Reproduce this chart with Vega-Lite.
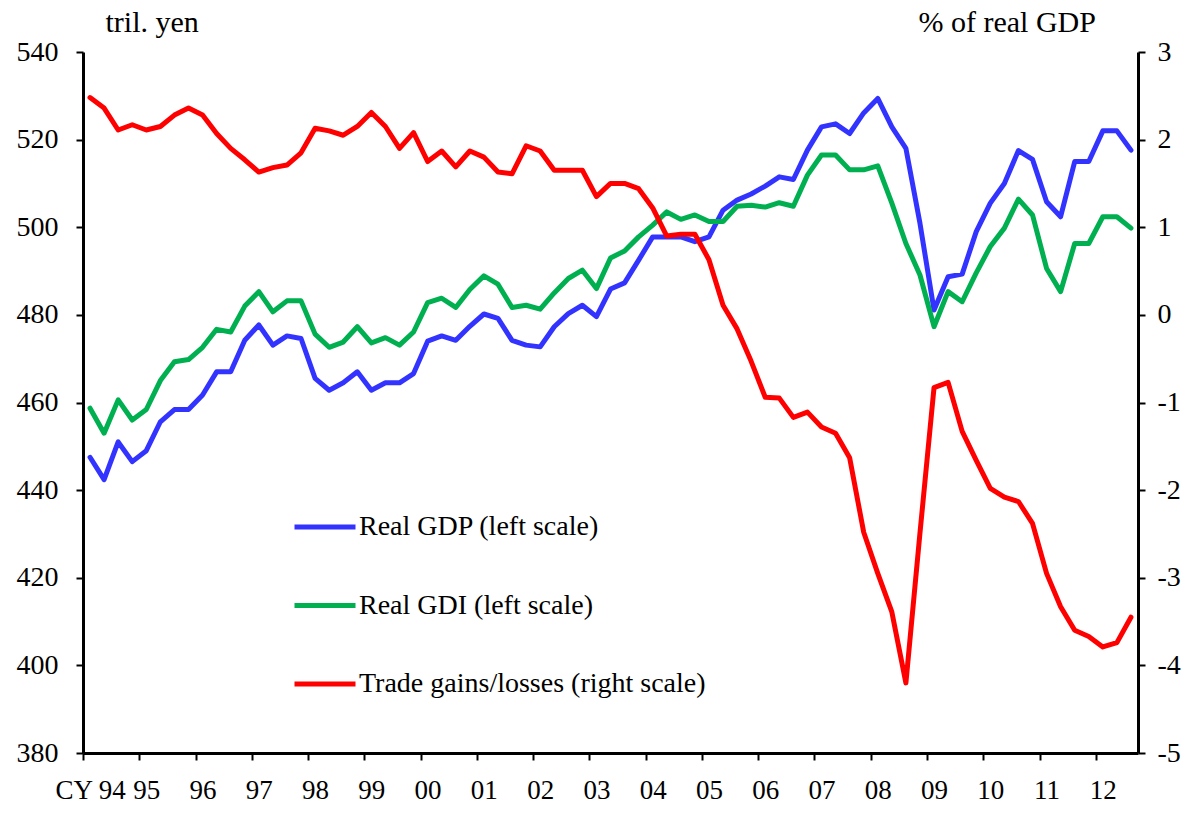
{
  "$schema": "https://vega.github.io/schema/vega-lite/v6.json",
  "width": 1055,
  "height": 701,
  "autosize": {"type": "none"},
  "padding": {"left": 83, "top": 52, "right": 61, "bottom": 61},
  "background": "white",
  "config": {"view": {"stroke": null}, "font": "Liberation Serif"},
  "data": {"values": [
    {"q":0,"gdp":447.5,"gdi":458.7,"tg":2.48},
    {"q":1,"gdp":442.4,"gdi":453.0,"tg":2.36},
    {"q":2,"gdp":451.0,"gdi":460.6,"tg":2.11},
    {"q":3,"gdp":446.5,"gdi":456.0,"tg":2.17},
    {"q":4,"gdp":449.0,"gdi":458.4,"tg":2.11},
    {"q":5,"gdp":455.6,"gdi":465.0,"tg":2.15},
    {"q":6,"gdp":458.4,"gdi":469.3,"tg":2.28},
    {"q":7,"gdp":458.4,"gdi":469.8,"tg":2.36},
    {"q":8,"gdp":461.7,"gdi":472.6,"tg":2.28},
    {"q":9,"gdp":467.0,"gdi":476.7,"tg":2.07},
    {"q":10,"gdp":467.0,"gdi":476.1,"tg":1.90},
    {"q":11,"gdp":474.2,"gdi":482.0,"tg":1.77},
    {"q":12,"gdp":477.7,"gdi":485.3,"tg":1.63},
    {"q":13,"gdp":473.1,"gdi":480.7,"tg":1.68},
    {"q":14,"gdp":475.2,"gdi":483.2,"tg":1.71},
    {"q":15,"gdp":474.6,"gdi":483.2,"tg":1.85},
    {"q":16,"gdp":465.5,"gdi":475.6,"tg":2.13},
    {"q":17,"gdp":462.8,"gdi":472.6,"tg":2.10},
    {"q":18,"gdp":464.5,"gdi":473.8,"tg":2.05},
    {"q":19,"gdp":467.0,"gdi":477.3,"tg":2.15},
    {"q":20,"gdp":462.8,"gdi":473.6,"tg":2.31},
    {"q":21,"gdp":464.5,"gdi":474.8,"tg":2.15},
    {"q":22,"gdp":464.5,"gdi":473.1,"tg":1.90},
    {"q":23,"gdp":466.6,"gdi":476.1,"tg":2.08},
    {"q":24,"gdp":474.0,"gdi":482.8,"tg":1.75},
    {"q":25,"gdp":475.2,"gdi":483.8,"tg":1.87},
    {"q":26,"gdp":474.2,"gdi":481.7,"tg":1.69},
    {"q":27,"gdp":477.4,"gdi":485.8,"tg":1.87},
    {"q":28,"gdp":480.2,"gdi":488.9,"tg":1.80},
    {"q":29,"gdp":479.2,"gdi":487.0,"tg":1.63},
    {"q":30,"gdp":474.2,"gdi":481.7,"tg":1.61},
    {"q":31,"gdp":473.1,"gdi":482.2,"tg":1.93},
    {"q":32,"gdp":472.7,"gdi":481.3,"tg":1.87},
    {"q":33,"gdp":477.3,"gdi":485.0,"tg":1.65},
    {"q":34,"gdp":480.3,"gdi":488.3,"tg":1.65},
    {"q":35,"gdp":482.2,"gdi":490.2,"tg":1.65},
    {"q":36,"gdp":479.6,"gdi":486.0,"tg":1.35},
    {"q":37,"gdp":485.9,"gdi":493.0,"tg":1.50},
    {"q":38,"gdp":487.3,"gdi":494.6,"tg":1.50},
    {"q":39,"gdp":492.5,"gdi":497.8,"tg":1.44},
    {"q":40,"gdp":497.8,"gdi":500.5,"tg":1.22},
    {"q":41,"gdp":497.8,"gdi":503.5,"tg":0.90},
    {"q":42,"gdp":497.8,"gdi":501.8,"tg":0.92},
    {"q":43,"gdp":496.7,"gdi":502.8,"tg":0.92},
    {"q":44,"gdp":497.8,"gdi":501.3,"tg":0.63},
    {"q":45,"gdp":503.9,"gdi":501.3,"tg":0.11},
    {"q":46,"gdp":506.2,"gdi":504.8,"tg":-0.16},
    {"q":47,"gdp":507.6,"gdi":505.0,"tg":-0.53},
    {"q":48,"gdp":509.4,"gdi":504.6,"tg":-0.94},
    {"q":49,"gdp":511.5,"gdi":505.6,"tg":-0.95},
    {"q":50,"gdp":510.9,"gdi":504.8,"tg":-1.17},
    {"q":51,"gdp":517.6,"gdi":511.9,"tg":-1.11},
    {"q":52,"gdp":522.9,"gdi":516.5,"tg":-1.28},
    {"q":53,"gdp":523.6,"gdi":516.5,"tg":-1.35},
    {"q":54,"gdp":521.4,"gdi":513.1,"tg":-1.63},
    {"q":55,"gdp":526.1,"gdi":513.1,"tg":-2.48},
    {"q":56,"gdp":529.4,"gdi":514.0,"tg":-2.95},
    {"q":57,"gdp":522.9,"gdi":505.5,"tg":-3.39},
    {"q":58,"gdp":518.0,"gdi":496.3,"tg":-4.20},
    {"q":59,"gdp":500.9,"gdi":489.1,"tg":-2.49},
    {"q":60,"gdp":481.1,"gdi":477.3,"tg":-0.83},
    {"q":61,"gdp":488.7,"gdi":485.3,"tg":-0.77},
    {"q":62,"gdp":489.3,"gdi":483.0,"tg":-1.33},
    {"q":63,"gdp":499.0,"gdi":489.6,"tg":-1.66},
    {"q":64,"gdp":505.5,"gdi":495.6,"tg":-1.98},
    {"q":65,"gdp":510.0,"gdi":499.8,"tg":-2.08},
    {"q":66,"gdp":517.5,"gdi":506.4,"tg":-2.13},
    {"q":67,"gdp":515.5,"gdi":502.8,"tg":-2.38},
    {"q":68,"gdp":505.8,"gdi":490.6,"tg":-2.95},
    {"q":69,"gdp":502.4,"gdi":485.3,"tg":-3.33},
    {"q":70,"gdp":515.0,"gdi":496.3,"tg":-3.60},
    {"q":71,"gdp":515.0,"gdi":496.3,"tg":-3.67},
    {"q":72,"gdp":522.0,"gdi":502.4,"tg":-3.79},
    {"q":73,"gdp":522.0,"gdi":502.4,"tg":-3.74},
    {"q":74,"gdp":517.6,"gdi":499.8,"tg":-3.45}
  ]},
  "layer": [
    {
      "transform": [{"fold": ["gdp", "gdi"], "as": ["series", "value"]}],
      "mark": {"type": "line", "strokeWidth": 5, "strokeJoin": "round", "strokeCap": "round"},
      "encoding": {
        "x": {
          "field": "q", "type": "quantitative",
          "scale": {"domain": [-0.5, 74.5], "nice": false, "zero": false},
          "axis": {
            "values": [-0.5, 3.5, 7.5, 11.5, 15.5, 19.5, 23.5, 27.5, 31.5, 35.5, 39.5, 43.5, 47.5, 51.5, 55.5, 59.5, 63.5, 67.5, 71.5],
            "labelExpr": "datum.value < 0 ? 'CY 94' : ((94 + (datum.value + 0.5) / 4) % 100 < 10 ? '0' + (94 + (datum.value + 0.5) / 4) % 100 : '' + (94 + (datum.value + 0.5) / 4) % 100)",
            "labelOffset": 7,
            "tickSize": 7, "tickWidth": 2, "tickColor": "black",
            "domainColor": "black", "domainWidth": 3,
            "labelFont": "Liberation Serif", "labelFontSize": 27, "labelColor": "black",
            "labelPadding": 17, "labelFlush": false, "labelOverlap": false, "labelBound": false,
            "grid": false, "title": null
          }
        },
        "y": {
          "field": "value", "type": "quantitative",
          "scale": {"domain": [380, 540], "nice": false, "zero": false},
          "axis": {
            "values": [380, 400, 420, 440, 460, 480, 500, 520, 540],
            "tickSize": 7, "tickWidth": 2, "tickColor": "black",
            "domainColor": "black", "domainWidth": 3,
            "labelFont": "Liberation Serif", "labelFontSize": 28, "labelColor": "black",
            "labelPadding": 18, "labelOverlap": false, "labelBound": false, "labelFlush": false,
            "grid": false,
            "title": "tril. yen", "titleAngle": 0, "titleAlign": "left", "titleBaseline": "alphabetic",
            "titleX": 22, "titleY": -21, "titleFont": "Liberation Serif", "titleFontSize": 30,
            "titleFontWeight": "normal", "titleColor": "black"
          }
        },
        "color": {
          "field": "series", "type": "nominal",
          "scale": {"domain": ["gdp", "gdi", "tg"], "range": ["#3333FF", "#00B050", "#FF0000"]},
          "legend": {
            "orient": "none", "legendX": 209, "legendY": 442, "title": null,
            "symbolType": "stroke", "symbolSize": 3721, "symbolStrokeWidth": 5,
            "labelFont": "Liberation Serif", "labelFontSize": 28, "labelColor": "black",
            "labelOffset": 1, "rowPadding": 31.5, "labelLimit": 0,
            "labelExpr": "datum.value == 'gdp' ? 'Real GDP (left scale)' : datum.value == 'gdi' ? 'Real GDI (left scale)' : 'Trade gains/losses (right scale)'"
          }
        }
      }
    },
    {
      "transform": [{"fold": ["tg"], "as": ["series", "value"]}],
      "mark": {"type": "line", "strokeWidth": 5, "strokeJoin": "round", "strokeCap": "round"},
      "encoding": {
        "x": {"field": "q", "type": "quantitative"},
        "y": {
          "field": "value", "type": "quantitative",
          "scale": {"domain": [-5, 3], "nice": false, "zero": false},
          "axis": {
            "orient": "right",
            "values": [-5, -4, -3, -2, -1, 0, 1, 2, 3],
            "labelExpr": "'' + datum.value",
            "tickSize": 7, "tickWidth": 2, "tickColor": "black",
            "domainColor": "black", "domainWidth": 3,
            "labelFont": "Liberation Serif", "labelFontSize": 28, "labelColor": "black",
            "labelPadding": 12, "labelOverlap": false, "labelBound": false, "labelFlush": false,
            "grid": false,
            "title": "% of real GDP", "titleAngle": 0, "titleAlign": "left", "titleBaseline": "alphabetic",
            "titleX": -220, "titleY": -21, "titleFont": "Liberation Serif", "titleFontSize": 30,
            "titleFontWeight": "normal", "titleColor": "black"
          }
        },
        "color": {
          "field": "series", "type": "nominal",
          "scale": {"domain": ["gdp", "gdi", "tg"], "range": ["#3333FF", "#00B050", "#FF0000"]}
        }
      }
    }
  ],
  "resolve": {"scale": {"y": "independent"}}
}
